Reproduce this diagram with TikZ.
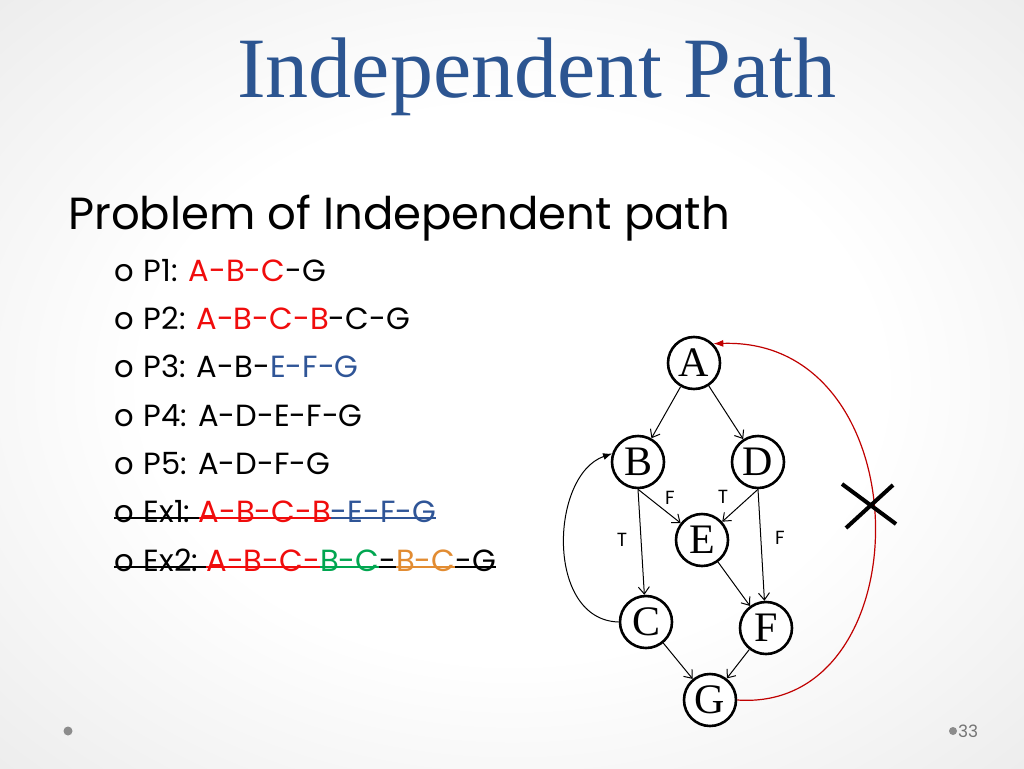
\documentclass[tikz,border=0pt]{standalone}
\usepackage{fontspec}
\setmainfont{Liberation Serif}
\setsansfont{Poppins}
\usetikzlibrary{arrows,arrows.meta}
\definecolor{titleblue}{RGB}{44,85,145}
\definecolor{pred}{RGB}{240,12,12}
\definecolor{pblue}{RGB}{47,85,151}
\definecolor{pgreen}{RGB}{0,166,80}
\definecolor{porange}{RGB}{226,140,50}
\definecolor{arcred}{RGB}{192,0,0}
\pgfdeclareradialshading{slidebg}{\pgfpoint{0bp}{0bp}}{color(0bp)=(white); color(18bp)=(white); color(50bp)=(black!13); color(72bp)=(black!20)}
\newcommand\strk[1]{\setbox0\hbox{#1}\rlap{\rule[3.5pt]{\wd0}{1.8pt}}\box0}
\tikzset{vertex/.style={circle,draw,line width=2.6pt,minimum size=52pt,inner sep=0pt,fill=white,
  font=\fontsize{42}{42}\selectfont},
  edge/.style={-{Straight Barb[length=7pt,width=11pt]},line width=1pt},
  lbl/.style={font=\sffamily\fontsize{19}{19}\selectfont,inner sep=0pt},
  item/.style={anchor=base west,inner sep=0pt,font=\sffamily\fontsize{30.6}{31}\selectfont}}
\begin{document}
\begin{tikzpicture}[x=1pt,y=-1pt]
\shade[shading=slidebg] (0,0) rectangle (1024,768);
\useasboundingbox (0,0) rectangle (1024,768);
\node[anchor=base,inner sep=0pt,text=titleblue,font=\fontsize{86}{86}\selectfont] (title) at (537,97) {Independent Path};
\node[anchor=base west,inner sep=0pt,font=\sffamily\fontsize{45}{45}\selectfont] (prob) at (68,229) {Problem of Independent path};
\node[item] (p1) at (114,281) {o\hspace{10pt}P1: {\color{pred}A-B-C}-G};
\node[item] (p2) at (114,329) {o\hspace{10pt}P2: {\color{pred}A-B-C-B}-C-G};
\node[item] (p3) at (114,377) {o\hspace{10pt}P3: A-B-{\color{pblue}E-F-G}};
\node[item] (p4) at (114,426) {o\hspace{10pt}P4: A-D-E-F-G};
\node[item] (p5) at (114,474) {o\hspace{10pt}P5: A-D-F-G};
\node[item] (ex1) at (114,522) {\strk{o\hspace{10pt}Ex1:\ }{\color{pred}\strk{A-B-C-B}}{\color{pblue}\strk{-E-F-G}}};
\node[item] (ex2) at (114,571) {\strk{o\hspace{10pt}Ex2:\ }{\color{pred}\strk{A-B-C-}}{\color{pgreen}\strk{B-C}}\strk{-}{\color{porange}\strk{B-C}}\strk{-G}};
\node[vertex] (A) at (694,363) {A};
\node[vertex] (B) at (638,462) {B};
\node[vertex] (D) at (758,462) {D};
\node[vertex] (E) at (702,540) {E};
\node[vertex] (C) at (646,622) {C};
\node[vertex] (F) at (766,628) {F};
\node[vertex] (G) at (710,700) {G};
\draw[edge] (A)--(B);
\draw[edge] (A)--(D);
\draw[edge] (B.south)--(C);
\draw[edge] (B.south)--(E);
\draw[edge] (D.south)--(E);
\draw[edge] (D.south)--(F);
\draw[edge] (E)--(F);
\draw[edge] (C)--(G);
\draw[edge] (F)--(G);
\draw[-{Latex[length=9pt,width=7pt]},line width=1pt] (C.west) .. controls (545,620) and (550,475) .. (B.162);
\draw[-{Latex[length=10pt,width=7pt]},line width=1.2pt,arcred] (G.east) .. controls (924,713) and (924,337) .. (A.45);
\node[lbl] (fbe) at (670,498) {F};
\node[lbl] (tde) at (723,497) {T};
\node[lbl] (tbc) at (622,540) {T};
\node[lbl] (fdf) at (780,538) {F};
\draw[line width=4pt] (842,484) -- (896,524) (846,528) -- (893,485);
\fill[black!45] (68,731) circle (4.5);
\fill[black!45] (953,731) circle (4);
\node[anchor=west,inner sep=0pt,text=black!55,font=\sffamily\fontsize{17}{17}\selectfont] (pg) at (958,731) {33};
\end{tikzpicture}
\end{document}
